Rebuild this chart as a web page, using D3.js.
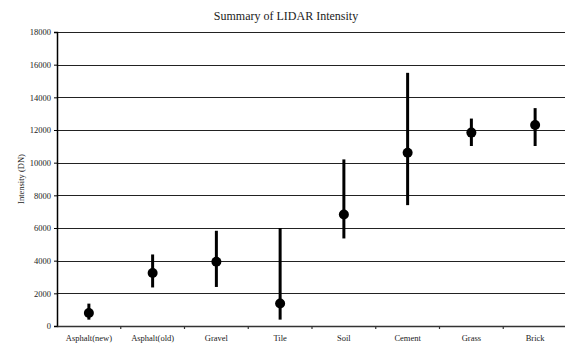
<!DOCTYPE html>
<html>
<head>
<meta charset="utf-8">
<script src="https://cdn.jsdelivr.net/npm/d3@7"></script>
<style>
  body{margin:0;background:#fff;}
  svg{display:block;font-family:"Liberation Serif","Times New Roman",serif;}
</style>
</head>
<body>
<svg></svg>
<script>
// data
var categories=["Asphalt(new)","Asphalt(old)","Gravel","Tile","Soil","Cement","Grass","Brick"];
var means=[800,3250,3930,1380,6830,10610,11840,12310];
var highs=[1370,4380,5830,6000,10200,15500,12700,13340];
var lows=[390,2360,2390,390,5360,7400,11020,11020];
var yTicks=[0,2000,4000,6000,8000,10000,12000,14000,16000,18000];

var screen={width:565,height:343};
var margins={top:32,bottom:17,left:57,right:-2};
var width=screen.width-margins.left-margins.right;
var height=screen.height-margins.top-margins.bottom;
var serif="'Liberation Serif','Times New Roman',serif";

var svg=d3.select("svg")
          .attr("width",screen.width)
          .attr("height",screen.height);

var xScale=d3.scaleBand()
             .domain(categories)
             .range([0,width]);
var yScale=d3.scaleLinear()
             .domain([0,18000])
             .range([height,0]);

var plot=svg.append("g")
            .attr("transform","translate("+margins.left+","+margins.top+")");

// gridlines
plot.selectAll("line.grid")
    .data(yTicks.slice(1))
    .enter()
    .append("line")
    .classed("grid",true)
    .attr("x1",0)
    .attr("x2",width)
    .attr("y1",function(d){return Math.round(yScale(d))+0.5;})
    .attr("y2",function(d){return Math.round(yScale(d))+0.5;})
    .attr("stroke","#222")
    .attr("stroke-width",1);

// y axis
var yAxis=d3.axisLeft(yScale).tickValues(yTicks).tickSize(3).tickPadding(3).tickFormat(d3.format("d"));
var yG=plot.append("g").call(yAxis).attr("font-family",serif);
yG.select(".domain").attr("stroke","#000").attr("stroke-width",1.5);
yG.selectAll("text").style("font-size","8.5px").attr("fill","#222");

// x axis
var xAxis=d3.axisBottom(xScale).tickSize(0).tickPadding(9);
var xG=plot.append("g")
           .attr("transform","translate(0,"+height+")")
           .call(xAxis)
           .attr("font-family",serif);
xG.select(".domain").attr("stroke","#333").attr("stroke-width",1.5);
xG.selectAll("text").style("font-size","8.5px").attr("fill","#222");
xG.selectAll("line.bound")
  .data(categories.slice(1))
  .enter()
  .append("line")
  .classed("bound",true)
  .attr("x1",function(d){return xScale(d);})
  .attr("x2",function(d){return xScale(d);})
  .attr("y1",0)
  .attr("y2",3)
  .attr("stroke","#333")
  .attr("stroke-width",1.2);

// error bars
plot.selectAll("line.err")
    .data(categories)
    .enter()
    .append("line")
    .classed("err",true)
    .attr("x1",function(d){return xScale(d)+xScale.bandwidth()/2;})
    .attr("x2",function(d){return xScale(d)+xScale.bandwidth()/2;})
    .attr("y1",function(d,i){return yScale(highs[i]);})
    .attr("y2",function(d,i){return yScale(lows[i]);})
    .attr("stroke","#000")
    .attr("stroke-width",3);

// means
plot.selectAll("circle")
    .data(categories)
    .enter()
    .append("circle")
    .attr("cx",function(d){return xScale(d)+xScale.bandwidth()/2;})
    .attr("cy",function(d,i){return yScale(means[i]);})
    .attr("r",5)
    .attr("fill","#000");

// title
svg.append("text")
   .attr("x",286)
   .attr("y",20)
   .attr("text-anchor","middle")
   .style("font-size","12px")
   .attr("fill","#222")
   .text("Summary of LIDAR Intensity");

// y label
svg.append("text")
   .attr("transform","translate(24,"+(margins.top+height/2)+") rotate(-90)")
   .attr("text-anchor","middle")
   .style("font-size","8.5px")
   .attr("fill","#222")
   .text("Intensity (DN)");
</script>
</body>
</html>
